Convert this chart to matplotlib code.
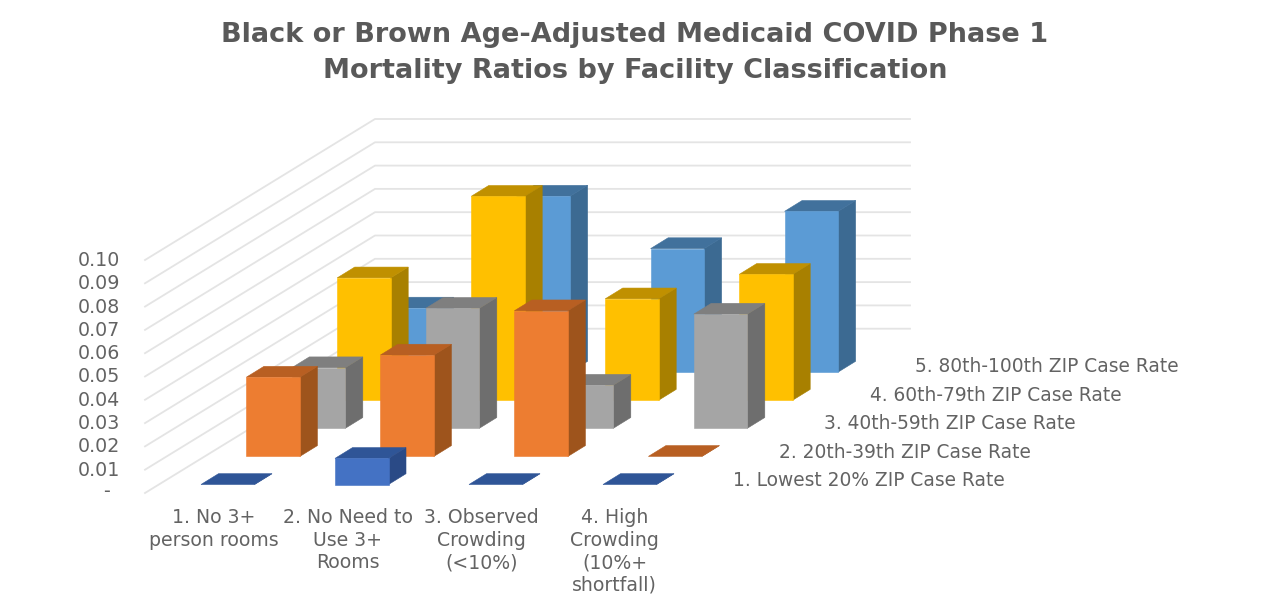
import matplotlib
matplotlib.use("Agg")
import matplotlib.pyplot as plt
from matplotlib.patches import Polygon

title_lines = ["Black or Brown Age-Adjusted Medicaid COVID Phase 1",
               "Mortality Ratios by Facility Classification"]
categories = ["1. No 3+\nperson rooms", "2. No Need to\nUse 3+\nRooms",
              "3. Observed\nCrowding\n(<10%)", "4. High\nCrowding\n(10%+\nshortfall)"]
series_names = ["1. Lowest 20% ZIP Case Rate", "2. 20th-39th ZIP Case Rate",
                "3. 40th-59th ZIP Case Rate", "4. 60th-79th ZIP Case Rate",
                "5. 80th-100th ZIP Case Rate"]
lowest = [0.0, 0.0112, 0.0, 0.0]
p20_39 = [0.034, 0.0435, 0.0625, 0.0]
p40_59 = [0.026, 0.0515, 0.0185, 0.049]
p60_79 = [0.0525, 0.0875, 0.0435, 0.054]
p80_100 = [0.0275, 0.0755, 0.0530, 0.069]
all_series = [lowest, p20_39, p40_59, p60_79, p80_100]
z_ticks = [i / 100 for i in range(1, 11)]

palette = [("#4472C4", "#2A4A86", "#2F5597"),
           ("#ED7D31", "#9E541C", "#B85F22"),
           ("#A5A5A5", "#6E6E6E", "#7F7F7F"),
           ("#FFC000", "#A88000", "#C09000"),
           ("#5B9BD5", "#3C6A92", "#41719C")]

TXT = "#636363"
TITLE = "#595959"
FONT = "DejaVu Sans"
GRID = "#E4E4E4"

X0, Y0 = 201.0, 484.5
CAT_DX = 134.0
SER_DX, SER_DY = 45.4, -28.1
VAL_PX = 2330.0
BAR_W = 53.5
DEP_X, DEP_Y = 17.5, -10.8


def base(c, s):
    return X0 + CAT_DX * c + SER_DX * s, Y0 + SER_DY * s


fig = plt.figure(figsize=(12.70, 6.13), dpi=100, facecolor="white")
ax = fig.add_axes([0, 0, 1, 1])
ax.set_xlim(0, 1270)
ax.set_ylim(613, 0)
ax.axis("off")

LX, LY0 = 145.0, 493.0
BX, BY0, RX = 375.0, 352.0, 910.0
for z in [0.0] + z_ticks:
    h = z * VAL_PX
    pts_x = [LX, BX, RX] if z > 0 else [LX, BX]
    pts_y = [LY0 - h, BY0 - h, BY0 - h] if z > 0 else [LY0 - h, BY0 - h]
    ax.plot(pts_x, pts_y, color=GRID, lw=1.3, zorder=1, solid_joinstyle="round")
    label = "-" if z == 0 else f"{z:.2f}"
    ax.text(120 if z > 0 else 106, LY0 - h + 0.5 if z > 0 else LY0 - 1, label,
            ha="right" if z > 0 else "center", va="center",
            color=TXT, fontsize=13.7, family=FONT)

zo = 2
for s in range(4, -1, -1):
    front, side, top = palette[s]
    for c in range(4):
        x, y = base(c, s)
        h = all_series[s][c] * VAL_PX
        xr = x + BAR_W
        yt = y - h
        ax.add_patch(Polygon([(xr, y), (xr + DEP_X, y + DEP_Y), (xr + DEP_X, yt + DEP_Y), (xr, yt)],
                             closed=True, fc=side, ec=side, lw=0.4, zorder=zo))
        ax.add_patch(Polygon([(x, yt), (xr, yt), (xr + DEP_X, yt + DEP_Y), (x + DEP_X, yt + DEP_Y)],
                             closed=True, fc=top, ec=top, lw=0.4, zorder=zo))
        if h > 0:
            ax.add_patch(Polygon([(x, y), (xr, y), (xr, yt), (x, yt)],
                                 closed=True, fc=front, ec=front, lw=0.4, zorder=zo))
        zo += 1

ax.text(635, 35.5, title_lines[0], ha="center", va="center", color=TITLE, fontsize=19.5,
        fontweight="bold", family=FONT)
ax.text(635, 71.5, title_lines[1], ha="center", va="center", color=TITLE, fontsize=19.5,
        fontweight="bold", family=FONT)

for c, name in enumerate(categories):
    ax.text(214 + 133.6 * c, 508, name, ha="center", va="top", color=TXT,
            fontsize=13.6, family=FONT, linespacing=1.24)

for s, name in enumerate(series_names):
    ax.text(733 + 45.6 * s, 480.5 - 28.4 * s, name, ha="left", va="center", color=TXT,
            fontsize=13.4, family=FONT)

fig.savefig("out.png", dpi=100, facecolor="white")
